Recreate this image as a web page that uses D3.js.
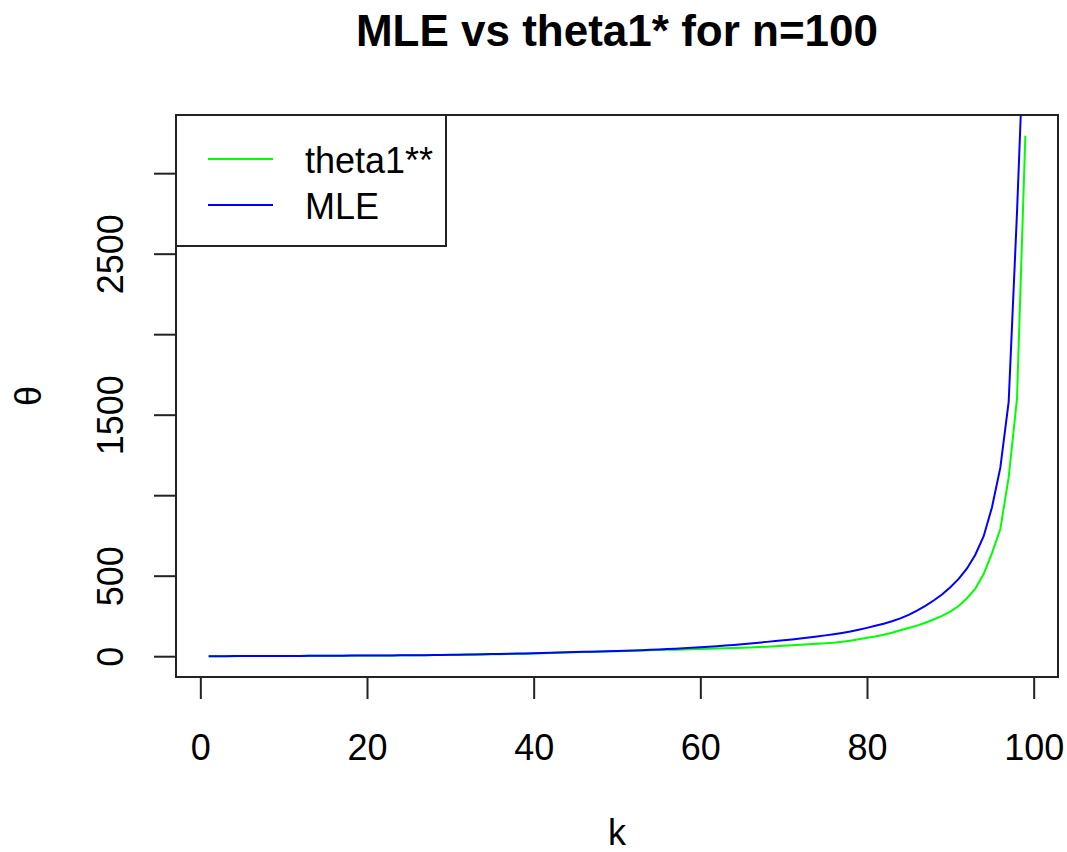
<!DOCTYPE html>
<html>
<head>
<meta charset="utf-8">
<script src="https://cdn.jsdelivr.net/npm/d3@7"></script>
<style>
  body { margin: 0; background: #fff; }
  text { font-family: "Liberation Sans", Arial, sans-serif; fill: #000; }
</style>
</head>
<body>
<div id="chart"></div>
<script>
//=========Data=========//
// k = 1..99
var kValues = d3.range(1, 100);

// MLE (blue)
var mleValues = [
  0.1, 0.2, 0.3, 0.5, 0.6, 0.8, 1.0, 1.2, 1.4, 1.6,
  1.8, 2.0, 2.3, 2.5, 2.8, 3.0, 3.3, 3.6, 3.9, 4.2,
  4.5, 4.8, 5.1, 5.5, 5.8, 6.2, 6.6, 7.0, 7.7, 8.5,
  9.3, 10.2, 11.1, 12.0, 13.0, 14.0, 15.1, 16.2, 17.4, 18.6,
  19.9, 21.3, 22.6, 24.0, 25.5, 27.0, 28.4, 29.8, 31.2, 32.6,
  34.1, 35.6, 37.5, 39.6, 41.9, 44.4, 47.0, 49.8, 52.8, 56.0,
  59.2, 62.5, 66.2, 70.0, 74.6, 79.5, 84.2, 89.0, 94.0, 99.0,
  104.4, 110, 116, 122.5, 129.3, 136.5, 144.5, 153, 164, 176,
  189, 202, 217, 235, 257, 283, 313, 346, 383, 428,
  480, 545, 630, 745, 925, 1171, 1580, 2755, 4100
];

// theta1** (green)
var thetaValues = [
  0.1, 0.2, 0.3, 0.4, 0.6, 0.7, 0.9, 1.1, 1.3, 1.5,
  1.7, 1.9, 2.1, 2.4, 2.6, 2.9, 3.1, 3.4, 3.7, 4.0,
  4.3, 4.6, 4.9, 5.3, 5.6, 6.0, 6.4, 6.8, 7.3, 7.9,
  8.5, 9.2, 9.9, 10.7, 11.5, 12.4, 13.3, 14.3, 15.4, 17.0,
  18.4, 19.8, 21.2, 22.6, 24.3, 25.8, 27.2, 28.6, 30.0, 31.3,
  32.6, 33.9, 35.2, 36.5, 37.9, 39.3, 40.7, 42.1, 43.5, 45.0,
  46.5, 48.0, 49.6, 51.3, 53.0, 54.8, 56.7, 58.7, 61.2, 64.2,
  67.6, 71.3, 74.5, 77.3, 80.0, 84.0, 89.5, 96.5, 105, 114,
  122, 133, 146, 161, 175, 190, 208, 228, 250, 277,
  312, 360, 420, 510, 640, 790, 1110, 1600, 3232
];

var xTicks = [0, 20, 40, 60, 80, 100];
var yTicks = [0, 500, 1000, 1500, 2000, 2500, 3000];
var yTickLabels = ["0", "500", "", "1500", "", "2500", ""];

var legendNames = ["theta1**", "MLE"];
var legendColors = ["#00ff00", "#0000ff"];

//=========SVG area=========//
var svgWidth = 1067;
var svgHeight = 852;

var plot = { left: 176, right: 1058, top: 115, bottom: 677 };

var svg = d3
  .select("#chart")
  .append("svg")
  .attr("width", svgWidth)
  .attr("height", svgHeight);

// R-style 4% extension of data range
var xExt = d3.extent(kValues);
var xPad = (xExt[1] - xExt[0]) * 0.04;
var xScale = d3
  .scaleLinear()
  .domain([xExt[0] - xPad, xExt[1] + xPad])
  .range([plot.left, plot.right]);

var yExt = d3.extent(thetaValues);
var yPad = (yExt[1] - yExt[0]) * 0.04;
var yScale = d3
  .scaleLinear()
  .domain([yExt[0] - yPad, yExt[1] + yPad])
  .range([plot.bottom, plot.top]);

// clip lines to plot region
svg
  .append("clipPath")
  .attr("id", "plotClip")
  .append("rect")
  .attr("x", plot.left)
  .attr("y", plot.top)
  .attr("width", plot.right - plot.left)
  .attr("height", plot.bottom - plot.top);

var line = d3
  .line()
  .x((d) => xScale(d[0]))
  .y((d) => yScale(d[1]));

var lineGroup = svg.append("g").attr("clip-path", "url(#plotClip)");

lineGroup
  .append("path")
  .datum(kValues.map((k, i) => [k, thetaValues[i]]))
  .attr("fill", "none")
  .attr("stroke", legendColors[0])
  .attr("stroke-width", 2)
  .attr("d", line);

lineGroup
  .append("path")
  .datum(kValues.map((k, i) => [k, mleValues[i]]))
  .attr("fill", "none")
  .attr("stroke", legendColors[1])
  .attr("stroke-width", 2)
  .attr("d", line);

//=========Axes=========//
var bottomAxis = d3
  .axisBottom(xScale)
  .tickValues(xTicks)
  .tickSize(22)
  .tickFormat(d3.format("d"));

var xAxis = svg
  .append("g")
  .attr("transform", `translate(0, ${plot.bottom})`)
  .call(bottomAxis);

xAxis.select(".domain").remove();
xAxis
  .append("line")
  .attr("x1", xScale(xTicks[0]))
  .attr("x2", xScale(xTicks[xTicks.length - 1]))
  .attr("stroke", "#222")
  .attr("stroke-width", 2);
xAxis.selectAll(".tick line").attr("stroke", "#222").attr("stroke-width", 2);
xAxis
  .selectAll(".tick text")
  .attr("font-size", 36)
  .attr("font-family", "Liberation Sans, Arial, sans-serif")
  .attr("fill", "#111")
  .attr("dy", 0)
  .attr("y", 83);

var leftAxis = d3
  .axisLeft(yScale)
  .tickValues(yTicks)
  .tickSize(22)
  .tickFormat((d, i) => yTickLabels[i]);

var yAxis = svg
  .append("g")
  .attr("transform", `translate(${plot.left}, 0)`)
  .call(leftAxis);

yAxis.select(".domain").remove();
yAxis
  .append("line")
  .attr("y1", yScale(yTicks[0]))
  .attr("y2", yScale(yTicks[yTicks.length - 1]))
  .attr("stroke", "#222")
  .attr("stroke-width", 2);
yAxis.selectAll(".tick line").attr("stroke", "#222").attr("stroke-width", 2);
yAxis
  .selectAll(".tick text")
  .attr("font-size", 36)
  .attr("font-family", "Liberation Sans, Arial, sans-serif")
  .attr("fill", "#111")
  .attr("x", 0)
  .attr("dy", 0)
  .attr("text-anchor", "middle")
  .attr("transform", "translate(-53, 0) rotate(-90)");

// plot box
svg
  .append("rect")
  .attr("x", plot.left)
  .attr("y", plot.top)
  .attr("width", plot.right - plot.left)
  .attr("height", plot.bottom - plot.top)
  .attr("fill", "none")
  .attr("stroke", "#222")
  .attr("stroke-width", 2);

//=========Titles=========//
svg
  .append("text")
  .attr("x", (plot.left + plot.right) / 2)
  .attr("y", 46)
  .attr("text-anchor", "middle")
  .attr("font-size", 44)
  .attr("font-weight", "bold")
  .text("MLE vs theta1* for n=100");

svg
  .append("text")
  .attr("x", (plot.left + plot.right) / 2)
  .attr("y", 845)
  .attr("text-anchor", "middle")
  .attr("font-size", 36)
  .attr("fill", "#111")
  .text("k");

svg
  .append("text")
  .attr("transform", `translate(41, ${(plot.top + plot.bottom) / 2}) rotate(-90)`)
  .attr("text-anchor", "middle")
  .attr("font-size", 36)
  .attr("fill", "#111")
  .text("θ");

//=========Legend=========//
var legend = svg.append("g");

legend
  .append("rect")
  .attr("x", plot.left)
  .attr("y", plot.top)
  .attr("width", 270)
  .attr("height", 131)
  .attr("fill", "#fff")
  .attr("stroke", "#222")
  .attr("stroke-width", 2);

legendNames.forEach(function (name, i) {
  var ly = 159 + i * 46;
  legend
    .append("line")
    .attr("x1", 208)
    .attr("x2", 273)
    .attr("y1", ly)
    .attr("y2", ly)
    .attr("stroke", legendColors[i])
    .attr("stroke-width", 2);
  legend
    .append("text")
    .attr("x", 305)
    .attr("y", ly + 14)
    .attr("font-size", 36)
    .attr("fill", "#111")
    .text(name);
});
</script>
</body>
</html>
